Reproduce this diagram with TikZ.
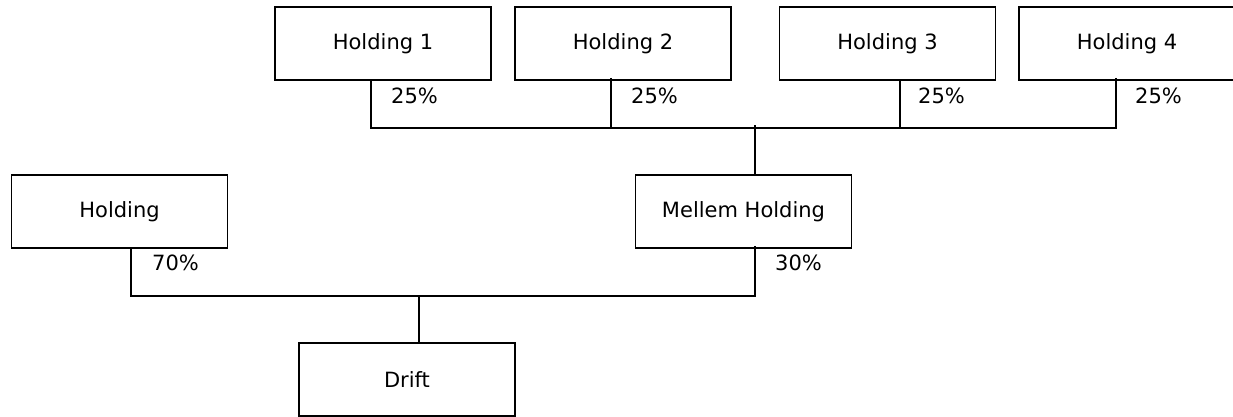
\documentclass[tikz,border=0pt]{standalone}
\usepackage{fontspec}
\setmainfont{DejaVu Sans}
\begin{document}
\begin{tikzpicture}[x=1pt,y=-1pt,
  entity/.style={draw,line width=1.7pt,minimum width=216pt,minimum height=73pt,inner sep=0pt,
    font=\fontsize{21pt}{25pt}\selectfont},
  share/.style={anchor=west,inner sep=0pt,font=\fontsize{21pt}{25pt}\selectfont},
  link/.style={line width=1.7pt}]
\useasboundingbox (0,0) rectangle (1233,416);
% owners at the top
\node[entity] (h1) at (383,43.5) {Holding 1};
\node[entity] (h2) at (623,43.5) {Holding 2};
\node[entity] (h3) at (887.5,43.5) {Holding 3};
\node[entity] (h4) at (1127,43.5) {Holding 4};
% middle level
\node[entity] (hold) at (119.5,211.5) {Holding};
\node[entity] (mh) at (743.5,211.5) {Mellem Holding};
% operating company
\node[entity] (drift) at (407,379.5) {Drift};
% junction points of the two bus lines
\coordinate (bus1) at (755,128);
\coordinate (bus2) at (419,296);
% upper bus
\draw[link] ([xshift=-12pt]h1.south) |- (bus1);
\draw[link] ([xshift=-12pt,yshift=3pt]h2.south) -- ([xshift=-12pt]h2.south |- bus1);
\draw[link] ([xshift=12.5pt]h3.south) -- ([xshift=12.5pt]h3.south |- bus1);
\draw[link] ([xshift=-11pt,yshift=3pt]h4.south) |- (bus1);
\draw[link] ([yshift=3pt]bus1) -- (bus1 |- mh.north);
% lower bus
\draw[link] ([xshift=11.5pt]hold.south) |- (bus2);
\draw[link] ([xshift=11.5pt,yshift=3pt]mh.south) |- (bus2);
\draw[link] (bus2) -- (bus2 |- drift.north);
% ownership shares
\node[share] (p1) at (391,96) {25\%};
\node[share] (p2) at (631,96) {25\%};
\node[share] (p3) at (918,96) {25\%};
\node[share] (p4) at (1135,96) {25\%};
\node[share] (p5) at (152,263) {70\%};
\node[share] (p6) at (775,263) {30\%};
\end{tikzpicture}
\end{document}
